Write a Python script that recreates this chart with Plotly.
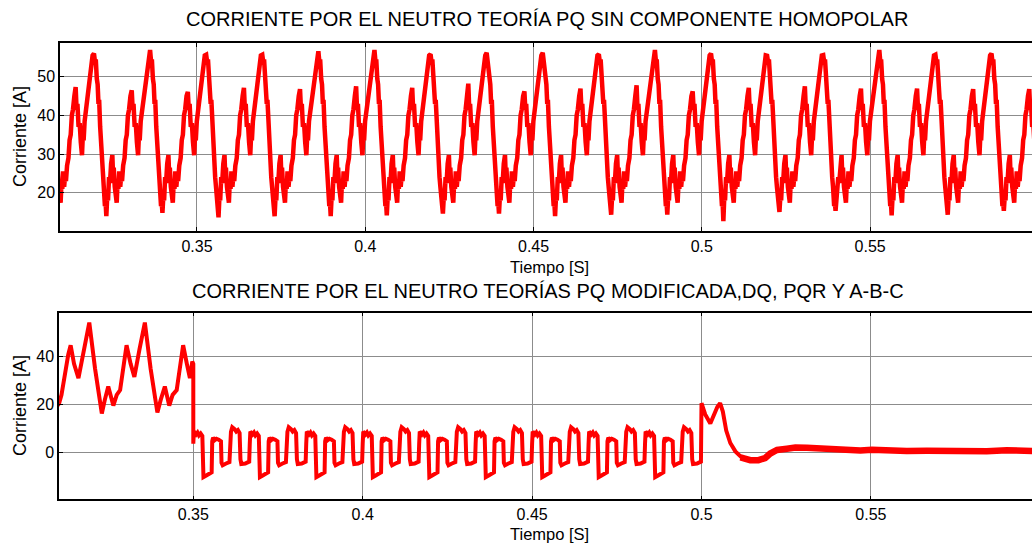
import plotly.graph_objects as go

# ---------------- upper panel: PQ theory without zero-sequence component ----------------
LINE_FREQ = 60.0            # Hz, fundamental
first_peak_time = 0.3194    # s, first major peak inside the window

# shape of one fundamental cycle, phase 0 = major peak
cycle_phase = [0.000, 0.020, 0.032, 0.050, 0.065, 0.080, 0.092, 0.110, 0.125, 0.140,
               0.160, 0.175, 0.195, 0.205, 0.220, 0.238, 0.250, 0.268, 0.285, 0.305,
               0.327, 0.340, 0.352, 0.370, 0.390, 0.405, 0.420, 0.435, 0.450, 0.468,
               0.485, 0.500, 0.520, 0.545, 0.565, 0.585, 0.605, 0.625, 0.650, 0.673,
               0.690, 0.705, 0.725, 0.745, 0.765, 0.786, 0.800, 0.815, 0.833, 0.855,
               0.875, 0.895, 0.915, 0.935, 0.955, 0.975]
cycle_current = [57.0, 53.5, 54.5, 49.5, 48.0, 43.0, 44.0, 37.0, 33.0, 30.5,
                 24.0, 21.5, 16.5, 18.0, 14.6, 19.5, 18.0, 24.0, 22.5, 27.5,
                 29.7, 24.5, 26.5, 21.5, 19.5, 17.4, 22.5, 21.0, 25.5, 21.5,
                 24.5, 23.0, 27.0, 29.0, 33.6, 35.0, 40.0, 41.5, 45.0, 46.8,
                 41.5, 43.0, 37.0, 38.0, 33.0, 29.7, 34.5, 33.5, 38.5, 41.0,
                 44.0, 46.0, 49.0, 51.0, 53.0, 55.5]
TROUGH_IDX = cycle_phase.index(0.220)
MINOR_IDX = cycle_phase.index(0.673)

# per-cycle extremes, cycles -1 .. 17 (major) and -1 .. 16 (trough / minor)
major_peaks = [56.4, 56.0, 56.9, 55.7, 55.7, 56.6, 56.9, 55.8, 56.2, 56.2,
               55.8, 56.9, 56.0, 55.4, 55.6, 56.9, 55.7, 56.0, 56.3]
troughs = [14.2, 13.9, 14.8, 13.6, 13.9, 13.9, 14.1, 14.6, 14.6, 13.9,
           14.3, 14.3, 12.6, 15.0, 15.3, 14.1, 14.3, 15.3]
minor_peaks = [47.3, 46.5, 46.1, 47.1, 46.8, 47.5, 47.1, 48.2, 46.2, 46.9,
               47.8, 46.2, 47.1, 47.5, 46.9, 46.9, 46.8, 46.8]

# ---------------- lower panel: modified PQ, DQ, PQR and A-B-C theories ----------------
# before compensation starts (t < 0.35 s)
pre_time = [0.3100, 0.3104, 0.3111, 0.3121, 0.3131, 0.3138, 0.3148, 0.3161, 0.3175, 0.3193,
            0.3210, 0.3230, 0.3239, 0.3249, 0.3264, 0.3274, 0.3284, 0.3293, 0.3303, 0.3315,
            0.3326, 0.3341, 0.3357, 0.3374, 0.3394, 0.3404, 0.3416, 0.3429, 0.3439, 0.3451,
            0.3461, 0.3470, 0.3481, 0.3490, 0.3497, 0.3500]
pre_current = [19.5, 20.5, 24.0, 33.0, 41.0, 44.8, 37.0, 31.0, 42.0, 54.3,
               35.0, 16.2, 22.0, 27.5, 19.5, 24.0, 26.0, 36.0, 44.8, 37.0,
               31.5, 43.0, 54.3, 35.0, 16.6, 22.0, 27.5, 19.5, 24.0, 26.0,
               36.0, 44.8, 37.0, 31.0, 38.0, 37.0]

# compensated interval 0.35 s .. 0.50 s: one fundamental cycle of the residual
comp_start = 0.35
comp_cycles = 9
comp_phase = [0.000, 0.010, 0.050, 0.075, 0.100, 0.130, 0.160, 0.170, 0.180, 0.230,
              0.290, 0.325, 0.335, 0.350, 0.380, 0.410, 0.450, 0.490, 0.500, 0.520,
              0.580, 0.640, 0.667, 0.690, 0.730, 0.760, 0.790, 0.820, 0.835, 0.850,
              0.920, 0.990]
comp_current = [3.5, 8.6, 7.4, 8.2, 7.0, 7.8, 6.8, -8.0, -10.5, -9.8,
                -9.0, -8.5, 4.5, 6.0, 5.0, 5.6, 5.2, 4.5, -4.5, -5.5,
                -4.8, -4.2, 8.5, 10.4, 9.6, 8.6, 9.2, 8.0, -3.0, -5.0,
                -4.8, -4.0]

# transient and steady state after 0.50 s
post_time = [0.5000, 0.5011, 0.5026, 0.5035, 0.5047, 0.5055, 0.5063, 0.5073, 0.5085, 0.5100,
             0.5119]
post_current = [20.5, 15.8, 12.0, 15.0, 19.0, 20.5, 17.0, 9.0, 3.8, 0.3,
                -2.3]
tail_time = [0.5115, 0.5144, 0.5168, 0.5188, 0.5203, 0.5223, 0.5252, 0.5277, 0.5311, 0.5350,
             0.5390, 0.5429, 0.5469, 0.5503, 0.5547, 0.5606, 0.5665, 0.5724, 0.5783, 0.5842,
             0.5901, 0.5976]
tail_current = [-2.2, -3.4, -3.4, -2.5, -0.6, 0.9, 1.4, 1.9, 1.8, 1.5,
                1.0, 0.8, 0.7, 1.0, 0.6, 0.5, 0.6, 0.4, 0.7, 0.4,
                0.8, 0.5]

TITLE_TOP = "CORRIENTE POR EL NEUTRO TEORÍA PQ SIN COMPONENTE HOMOPOLAR"
TITLE_BOTTOM = "CORRIENTE POR EL NEUTRO TEORÍAS PQ MODIFICADA,DQ, PQR Y A-B-C"
X_LABEL = "Tiempo [S]"
Y_LABEL = "Corriente [A]"
x_ticks = [0.35, 0.40, 0.45, 0.50, 0.55]
x_tick_text = ["0.35", "0.4", "0.45", "0.5", "0.55"]

# ---------------- assemble the sample sequences ----------------
t_top, i_top = [], []
for n in range(len(troughs)):
    k = n - 1
    vals = list(cycle_current)
    vals[0] = major_peaks[n]
    vals[TROUGH_IDX] = troughs[n]
    vals[MINOR_IDX] = minor_peaks[n]
    for ph, v in zip(cycle_phase, vals):
        t_top.append(first_peak_time + (k + ph) / LINE_FREQ)
        i_top.append(v)
t_top.append(first_peak_time + (len(troughs) - 1) / LINE_FREQ)
i_top.append(major_peaks[-1])

t_bot, i_bot = list(pre_time), list(pre_current)
for k in range(comp_cycles):
    for ph, v in zip(comp_phase, comp_current):
        t_bot.append(comp_start + (k + ph) / LINE_FREQ)
        i_bot.append(v)
t_bot += post_time
i_bot += post_current

RED = "#ff0000"
fig = go.Figure()
fig.add_trace(go.Scatter(x=t_top, y=i_top, mode="lines",
                         line=dict(color=RED, width=4.5), xaxis="x", yaxis="y",
                         showlegend=False, hoverinfo="skip"))
fig.add_trace(go.Scatter(x=t_bot, y=i_bot, mode="lines",
                         line=dict(color=RED, width=4), xaxis="x2", yaxis="y2",
                         showlegend=False, hoverinfo="skip"))
fig.add_trace(go.Scatter(x=tail_time, y=tail_current, mode="lines",
                         line=dict(color=RED, width=6.5), xaxis="x2", yaxis="y2",
                         showlegend=False, hoverinfo="skip"))

W, H = 1032, 545
FONT = "Arial, 'Liberation Sans', sans-serif"
GRID = "#8c8c8c"

def xaxis_style(left_px, rng, anchor):
    return dict(domain=[left_px / W, 1.0], range=rng, anchor=anchor,
                tickvals=x_ticks, ticktext=x_tick_text,
                ticks="inside", ticklen=4, tickcolor="black", tickwidth=1,
                showline=True, linecolor="black", linewidth=1.5, mirror="ticks",
                showgrid=True, gridcolor=GRID, gridwidth=1, zeroline=False,
                automargin=False, tickfont=dict(family=FONT, size=16, color="black"))

def yaxis_style(top_px, bottom_px, rng, ticks, anchor):
    return dict(domain=[1 - bottom_px / H, 1 - top_px / H], range=rng, anchor=anchor,
                tickvals=ticks, ticks="inside", ticklen=4, tickcolor="black", tickwidth=1,
                showline=True, linecolor="black", linewidth=1.5, mirror=False,
                showgrid=True, gridcolor=GRID, gridwidth=1, zeroline=False,
                automargin=False, tickfont=dict(family=FONT, size=16, color="black"))

fig.update_layout(
    width=W, height=H, margin=dict(l=0, r=0, t=0, b=0),
    paper_bgcolor="white", plot_bgcolor="white",
    xaxis=xaxis_style(60, [0.3093, 0.5981], "y"),
    yaxis=yaxis_style(43.3, 230.7, [10.16, 58.65], [20, 30, 40, 50], "x"),
    xaxis2=xaxis_style(59, [0.31036, 0.59755], "y2"),
    yaxis2=yaxis_style(312.7, 499.3, [-19.8, 58.45], [0, 20, 40], "x2"),
)

def text_at(x_px, y_px, text, size, angle=0):
    fig.add_annotation(x=x_px / W, y=1 - y_px / H, xref="paper", yref="paper",
                       text=text, showarrow=False, textangle=angle,
                       xanchor="center", yanchor="middle",
                       font=dict(family=FONT, size=size, color="black"))

text_at(546.5, 19, TITLE_TOP, 20)
text_at(548, 291, TITLE_BOTTOM, 20)
text_at(549, 266.5, X_LABEL, 16.5)
text_at(549, 533.5, X_LABEL, 16.5)
text_at(20, 137, Y_LABEL, 18, -90)
text_at(20, 406, Y_LABEL, 18, -90)

fig.write_html("out.html")
